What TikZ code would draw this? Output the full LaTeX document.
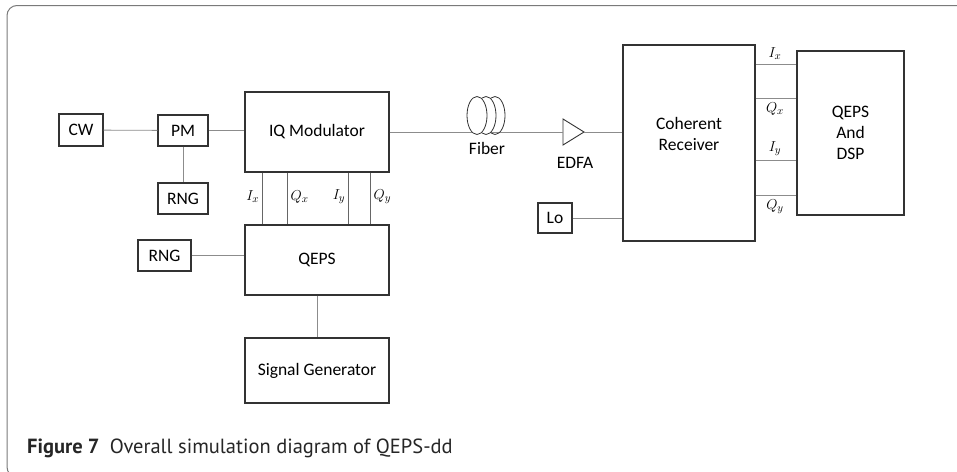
\documentclass[tikz,border=0pt]{standalone}
\usepackage{fontspec}
\setmainfont{Carlito}
\newfontfamily\capfont{PT Sans}
\usepackage{tikz}
\usetikzlibrary{calc}
\definecolor{BoxEdge}{HTML}{333333}
\definecolor{WireGray}{HTML}{8C8C8C}
\definecolor{FrameGray}{HTML}{7A7A7A}

\begin{document}
\begin{tikzpicture}[
  x=1pt, y=-1pt,
  blk/.style={draw=BoxEdge, line width=1.1pt, align=center, inner sep=2pt, font=\fontsize{17.5}{21}\selectfont},
  wire/.style={draw=WireGray, line width=0.8pt},
  sig/.style={font=\fontsize{15}{17}\selectfont, inner sep=1pt},
  tag/.style={font=\fontsize{17.5}{21}\selectfont, inner sep=1pt, align=center}
]
\useasboundingbox (0,0) rectangle (957,471);
\clip (0,0) rectangle (957,471);
% frame
\draw[FrameGray, line width=1pt, rounded corners=10pt] (970,5.5) -- (7,5.5) -- (7,477) -- (970,477);

% transmitter side
\node[blk, minimum width=44, minimum height=32] (cw) at (81,130) {CW};
\node[blk, minimum width=50, minimum height=31] (pm) at (183,130.5) {PM};
\node[blk, minimum width=50, minimum height=31] (rngA) at (183,198.5) {RNG};
\node[blk, minimum width=144, minimum height=80] (iqmod) at (317,132) {IQ Modulator};
\node[blk, minimum width=144, minimum height=70] (qeps) at (317,260) {QEPS};
\node[blk, minimum width=53, minimum height=31] (rngB) at (164.5,255.5) {RNG};
\node[blk, minimum width=144, minimum height=65] (siggen) at (317,370.5) {Signal Generator};

\draw[wire] (cw) -- (pm);
\draw[wire] (pm.east) -- (pm.east -| iqmod.west);
\draw[wire] (pm) -- (rngA);
\draw[wire] (rngB.east) -- (rngB.east -| qeps.west);
\draw[wire] (qeps) -- (siggen);

% drive signals IQ -> QEPS
\foreach \dx/\name/\side in {18/I_x/left, 43/Q_x/right, 104/I_y/left, 126/Q_y/right} {
  \draw[wire, draw=BoxEdge!75] ($(iqmod.south west)+(\dx,0)$) coordinate (drv\dx) -- (drv\dx |- qeps.north);
  \node[sig, \side=2pt] at ($(iqmod.south west)+(\dx,24)$) {$\name$};
}

% link: fiber and amplifier
\coordinate (edfain) at (563,132);
\coordinate (edfaout) at (584,132);
\draw[BoxEdge, line width=0.9pt] ($(edfain)+(0,-13)$) -- (edfaout) -- ($(edfain)+(0,13)$) -- cycle;
\draw[wire] (iqmod.east) -- (edfain);
\coordinate (fiber) at (486,115.5);
\draw[BoxEdge, line width=0.8pt] ($(fiber)+(9,0)$) ellipse [x radius=10pt, y radius=19pt];
\draw[BoxEdge, line width=0.8pt, fill=white] (fiber) ellipse [x radius=10pt, y radius=19pt];
\draw[BoxEdge, line width=0.8pt, fill=white] ($(fiber)+(-9,0)$) ellipse [x radius=10pt, y radius=19pt];
\node[tag] (fibertag) at (487,148) {Fiber};
\node[tag] (edfatag) at (575,163) {EDFA};

% receiver side
\node[blk, minimum width=132, minimum height=196] (rx) at (689,143) {};
\node[tag] (rxtag) at (689,133.5) {Coherent\\Receiver};
\node[blk, minimum width=107, minimum height=164] (dsp) at (850.5,133) {QEPS\\And\\DSP};
\node[blk, minimum width=34, minimum height=30] (lo) at (555,218) {Lo};

\draw[wire] (edfaout) -- (edfaout -| rx.west);
\draw[wire] (lo.east) -- (lo.east -| rx.west);
\foreach \yy/\name/\pos in {64/I_x/above, 98/Q_x/below, 160/I_y/above, 195/Q_y/below} {
  \draw[wire] (rx.east |- 0,\yy) -- (dsp.west |- 0,\yy);
  \node[sig, \pos=3pt] at (775,\yy) {$\name$};
}

% caption
\node[anchor=west, inner sep=0pt, text=black!85, font=\capfont\fontsize{20.5}{24}\selectfont] (caption) at (27,448)
  {\textbf{Figure 7}\enspace Overall simulation diagram of QEPS-dd};
\end{tikzpicture}
\end{document}
